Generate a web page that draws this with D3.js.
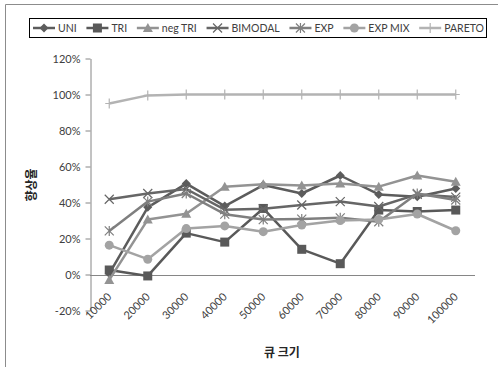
<!DOCTYPE html>
<html>
<head>
<meta charset="utf-8">
<script src="https://cdn.jsdelivr.net/npm/d3@7"></script>
<style>
  body { margin: 0; background: #fff; }
  svg { display: block; font-family: Lato, "Open Sans", sans-serif; }
</style>
</head>
<body>
<svg id="chart" width="498" height="367"></svg>
<script>
// queue sizes on the x axis
const queueSizes = ["10000", "20000", "30000", "40000", "50000", "60000", "70000", "80000", "90000", "100000"];
const seriesNames = ["UNI", "TRI", "neg TRI", "BIMODAL", "EXP", "EXP MIX", "PARETO"];

// improvement rate, in %
const uni     = [0.5, 37.3, 50.5, 38, 49.7, 45, 55, 44.5, 43.2, 47.8];
const tri     = [2.5, -0.8, 23, 18, 36.7, 14, 6, 35.8, 35, 35.8];
const negTri  = [-3, 30.5, 33.8, 48.8, 50.2, 49.5, 50.6, 48.8, 55, 51.5];
const bimodal = [41.8, 45, 47.5, 36, 36.5, 38.6, 40.5, 37.8, 44.5, 43];
const exp     = [24.2, 40.5, 45, 33.5, 30.5, 30.8, 31.5, 29.3, 45, 41.4];
const expMix  = [16.3, 8.5, 25.5, 27, 23.8, 27.5, 30, 30.6, 33.6, 24.3];
const pareto  = [95, 99.5, 100, 100, 100, 100, 100, 100, 100, 100];

const yTicks = [-20, 0, 20, 40, 60, 80, 100, 120];

const series = [
  { name: seriesNames[0], values: uni,     color: "#5c5c5c", marker: "diamond" },
  { name: seriesNames[1], values: tri,     color: "#595959", marker: "square" },
  { name: seriesNames[2], values: negTri,  color: "#939393", marker: "triangle" },
  { name: seriesNames[3], values: bimodal, color: "#666666", marker: "x" },
  { name: seriesNames[4], values: exp,     color: "#7f7f7f", marker: "star" },
  { name: seriesNames[5], values: expMix,  color: "#a3a3a3", marker: "circle" },
  { name: seriesNames[6], values: pareto,  color: "#b3b3b3", marker: "plus" }
];

const svg = d3.select("#chart");

// frame (only top and left edges show in the picture)
svg.append("path")
  .attr("d", "M5.5,367V4.5H498")
  .attr("fill", "none")
  .attr("stroke", "#8c8c8c");

const xScale = d3.scaleBand().domain(queueSizes).range([90, 475]);
const yScale = d3.scaleLinear().domain([-20, 120]).range([310.5, 58.5]);

// y axis
const yAxis = svg.append("g")
  .attr("transform", "translate(90.5,0)")
  .call(d3.axisLeft(yScale).tickValues(yTicks).tickSize(5).tickSizeOuter(0).tickPadding(5).tickFormat(d => d + "%"));
yAxis.select(".domain").attr("stroke", "#868686");
yAxis.selectAll(".tick line").attr("stroke", "#868686");
yAxis.selectAll(".tick text").attr("fill", "#404040").style("font-size", "11px").style("font-family", "Lato, sans-serif");

// x axis line at 0%
svg.append("line")
  .attr("x1", 90).attr("x2", 475)
  .attr("y1", Math.round(yScale(0)) + 0.5).attr("y2", Math.round(yScale(0)) + 0.5)
  .attr("stroke", "#868686");

// x labels, rotated
svg.append("g").selectAll("text")
  .data(queueSizes)
  .join("text")
  .attr("transform", d => `translate(${xScale(d) + xScale.bandwidth() / 2 + 3},${yScale(0) + 23}) rotate(-45)`)
  .attr("text-anchor", "end")
  .attr("fill", "#404040")
  .style("font-size", "11px")
  .text(d => d);

// axis titles
svg.append("text")
  .attr("transform", "translate(36,185) rotate(-90)")
  .attr("text-anchor", "middle")
  .style("font-size", "12px").style("font-weight", "bold")
  .style("font-family", "'Noto Sans CJK KR', sans-serif")
  .attr("fill", "#262626")
  .text("향상율");

svg.append("text")
  .attr("x", 282).attr("y", 357)
  .attr("text-anchor", "middle")
  .style("font-size", "12px").style("font-weight", "bold")
  .style("font-family", "'Noto Sans CJK KR', sans-serif")
  .attr("fill", "#262626")
  .text("큐 크기");

function drawMarker(g, type, color) {
  if (type === "diamond") {
    g.append("path").attr("d", "M0,-4.5L4.5,0L0,4.5L-4.5,0Z").attr("fill", color);
  } else if (type === "square") {
    g.append("rect").attr("x", -4.5).attr("y", -4.5).attr("width", 9).attr("height", 9).attr("fill", color);
  } else if (type === "triangle") {
    g.append("path").attr("d", "M0,-5L5,4L-5,4Z").attr("fill", color);
  } else if (type === "circle") {
    g.append("circle").attr("r", 4.5).attr("fill", color);
  } else if (type === "x") {
    g.append("path").attr("d", "M-4.5,-4.5L4.5,4.5M-4.5,4.5L4.5,-4.5").attr("stroke", color).attr("stroke-width", 1.2);
  } else if (type === "star") {
    g.append("path").attr("d", "M-4.5,-4.5L4.5,4.5M-4.5,4.5L4.5,-4.5M0,-5V5").attr("stroke", color).attr("stroke-width", 1.2);
  } else if (type === "plus") {
    g.append("path").attr("d", "M0,-5V5M-4,0H4").attr("stroke", color).attr("stroke-width", 1.2);
  }
}

const line = d3.line()
  .x((d, i) => xScale(queueSizes[i]) + xScale.bandwidth() / 2)
  .y(d => yScale(d));

const plot = svg.append("g");
for (const s of series) {
  const g = plot.append("g");
  g.append("path")
    .attr("d", line(s.values))
    .attr("fill", "none")
    .attr("stroke", s.color)
    .attr("stroke-width", 2.5)
    .attr("stroke-linejoin", "round");
  s.values.forEach((v, i) => {
    const m = g.append("g")
      .attr("transform", `translate(${xScale(queueSizes[i]) + xScale.bandwidth() / 2},${yScale(v)})`);
    drawMarker(m, s.marker, s.color);
  });
}

// legend: lay the items out so they fill the box
svg.append("rect")
  .attr("x", 29.5).attr("y", 18.5).attr("width", 457).attr("height", 19)
  .attr("fill", "#fff").attr("stroke", "#000");

const lineLen = 22;
const legend = svg.append("g");
const items = series.map(s => {
  const g = legend.append("g");
  g.append("line").attr("x1", 0).attr("x2", lineLen).attr("stroke", s.color).attr("stroke-width", 2.5);
  drawMarker(g.append("g").attr("transform", `translate(${lineLen / 2},0)`), s.marker, s.color);
  const t = g.append("text")
    .attr("x", lineLen + 3).attr("dy", "0.35em")
    .attr("fill", "#404040")
    .style("font-size", "10.5px")
    .text(s.name);
  return { g, w: lineLen + 3 + t.node().getComputedTextLength() };
});
const totalW = d3.sum(items, d => d.w);
const gap = (484 - 33 - totalW) / (items.length - 1);
let lx = 33;
for (const it of items) {
  it.g.attr("transform", `translate(${lx},28)`);
  lx += it.w + gap;
}
</script>
</body>
</html>
